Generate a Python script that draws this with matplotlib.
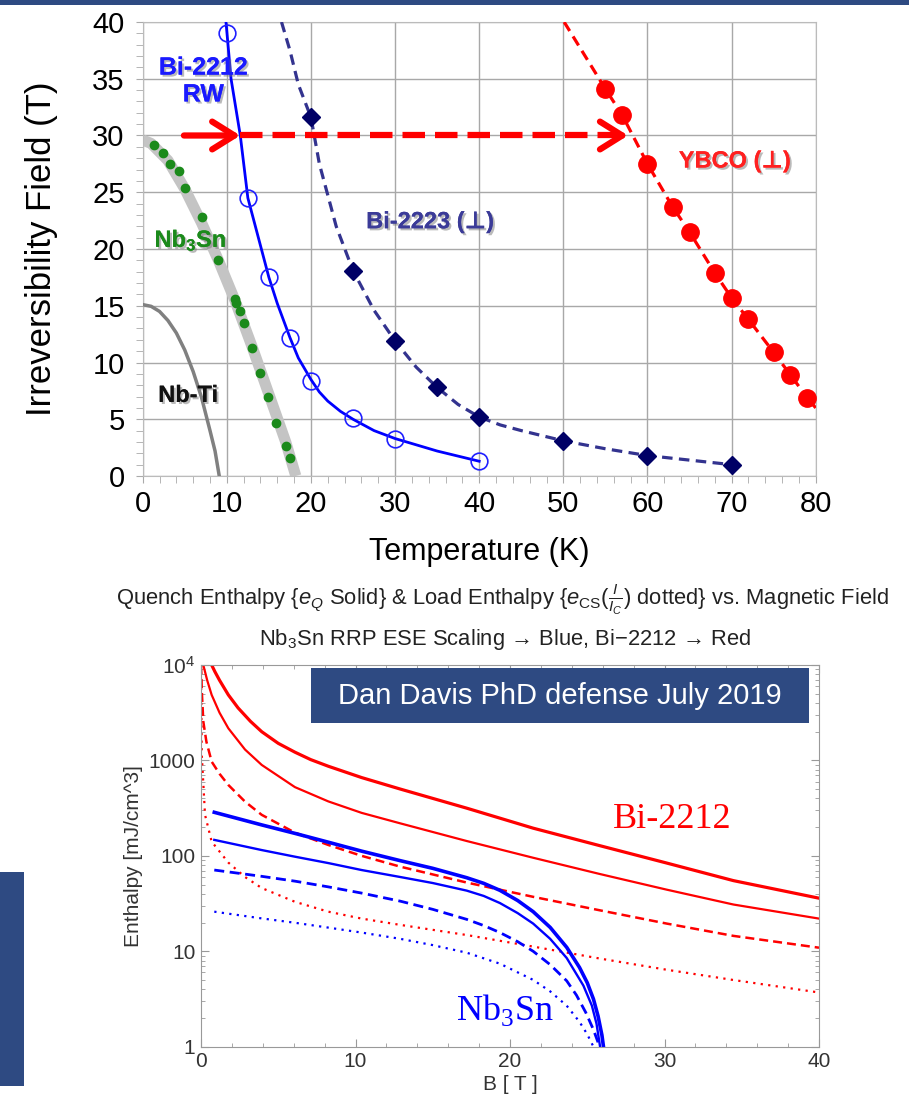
import numpy as np
import matplotlib.pyplot as plt
import matplotlib.patheffects as pe
from matplotlib.patches import Rectangle
from matplotlib.ticker import MultipleLocator, LogLocator, NullFormatter

plt.rcParams['font.family'] = ['Liberation Sans', 'DejaVu Sans']
plt.rcParams['mathtext.fontset'] = 'custom'
plt.rcParams['mathtext.rm'] = 'Liberation Sans'
plt.rcParams['mathtext.it'] = 'Liberation Sans:italic'
plt.rcParams['mathtext.bf'] = 'Liberation Sans:bold'

NAVY = '#2E4A82'

# ------------------------------------------------
# Top panel: irreversibility field vs temperature
# ------------------------------------------------
bi2212_T = [10, 12.5, 15, 17.5, 20, 25, 30, 40]
bi2212_B = [39.0, 24.5, 17.5, 12.2, 8.4, 5.1, 3.3, 1.3]
bi2212_fit_T = [9.9, 10.5, 11.6, 12.5, 14, 15, 16, 17.5, 18.5, 20, 21, 22, 23.5, 25, 27.5, 30, 35, 40]
bi2212_fit_B = [40, 35, 30, 24.5, 20.3, 17.5, 15.2, 12.2, 10.4, 8.5, 7.4, 6.6, 5.7, 5.0, 4.0, 3.3, 2.2, 1.3]

bi2223_T = [20, 25, 30, 35, 40, 50, 60, 70]
bi2223_B = [31.6, 18.1, 11.9, 7.8, 5.2, 3.1, 1.8, 1.0]
bi2223_fit_T = [16.5, 17.5, 18.5, 20, 21, 23, 25, 27.5, 30, 32.5, 35, 37.5, 40, 42.5, 45, 50, 55, 60, 65, 70]
bi2223_fit_B = [40, 37.5, 34.5, 31.6, 27.5, 22, 18.1, 14.6, 11.9, 9.6, 7.8, 6.3, 5.2, 4.5, 4.0, 3.1, 2.4, 1.8, 1.4, 1.0]

ybco_T = [55, 57, 60, 63, 65, 68, 70, 72, 75, 77, 79]
ybco_B = [34.1, 31.8, 27.5, 23.7, 21.5, 17.9, 15.7, 13.8, 10.9, 8.9, 6.9]
ybco_fit_T = [50.1, 55, 57, 60, 63, 65, 68, 70, 72, 75, 77, 79, 80]
ybco_fit_B = [40, 34.1, 31.8, 27.5, 23.7, 21.5, 17.9, 15.7, 13.8, 10.9, 8.9, 6.9, 6.0]

nb3sn_T = [1.4, 2.45, 3.3, 4.3, 5.0, 7.05, 9.0, 11.0, 11.1, 11.6, 12.05, 13.0, 13.95, 14.9, 15.9, 17.0, 17.5]
nb3sn_B = [29.2, 28.5, 27.5, 26.9, 25.4, 22.8, 19.0, 15.6, 15.2, 14.5, 13.5, 11.3, 9.1, 7.0, 4.7, 2.6, 1.6]
nb3sn_band_T = [0, 1, 3, 5, 7, 9, 11, 13, 15, 17, 18.2]
nb3sn_band_B = [29.6, 29.3, 27.8, 25.3, 22.3, 19.0, 15.4, 11.4, 7.2, 3.0, 0]

nbti_T = [0, 1, 2, 3, 4, 5, 6, 7, 8, 8.6, 9.1]
nbti_B = [15.1, 14.95, 14.5, 13.7, 12.6, 11.1, 9.2, 6.9, 4.0, 2.2, 0]

arrow_T = [4.9, 11.6, 57.7]
arrow_B = 30

# ------------------------------------------------
# Bottom panel: enthalpy vs field (log scale)
# ------------------------------------------------
red_thick_B = [0.69, 0.9, 1.2, 1.77, 2.4, 3.2, 3.93, 5.0, 6.08, 7.1, 8.24, 10.4, 12.9, 17.2, 21.5, 25.8, 30.15, 34.46, 40]
red_thick_y = [10000, 8510, 6920, 4860, 3550, 2570, 2000, 1510, 1220, 1020, 869, 661, 501, 316, 195, 128, 84, 55, 36]
red_thin_B = [0.15, 0.4, 0.69, 1.2, 1.77, 2.85, 3.93, 6.08, 8.24, 10.4, 12.9, 17.2, 21.5, 25.8, 30.15, 34.46, 40]
red_thin_y = [10000, 6920, 4860, 3160, 2170, 1300, 897, 525, 372, 282, 219, 143, 95.5, 64.6, 44.2, 30.9, 22]
red_dash_B = [0.0, 0.06, 0.15, 0.35, 0.69, 1.2, 1.77, 2.85, 3.93, 6.08, 8.24, 10.4, 12.9, 17.2, 21.5, 25.8, 30.15, 34.46, 40]
red_dash_y = [10000, 5000, 2550, 1570, 971, 724, 553, 370, 269, 175, 130, 100, 77, 52.5, 37.2, 26.9, 19.5, 14.5, 10.9]
red_dot_B = [0.0, 0.05, 0.26, 0.69, 1.77, 2.85, 3.93, 6.08, 8.24, 10.4, 12.9, 17.2, 21.5, 25.8, 30.15, 34.46, 40]
red_dot_y = [10000, 1140, 269, 141, 85, 60, 46, 33, 26, 22, 18.9, 14.8, 11.2, 8.4, 6.4, 5.0, 3.7]

blue_thick_B = [0.86, 3.93, 6.08, 8.24, 10.4, 12.9, 15.0, 17.2, 18.3, 19.35, 20.5, 21.5, 22.6, 23.67,
                24.5, 25.0, 25.4, 25.7, 25.95, 26.05]
blue_thick_y = [286, 211, 172, 139, 112, 89, 74, 59, 51.5, 43.5, 34, 26, 17.8, 11, 6.76, 4.68, 3.16,
                2.09, 1.32, 1.0]
blue_thin_B = [0.86, 3.93, 6.08, 8.24, 10.4, 12.9, 15.0, 17.2, 18.3, 19.35, 20.5, 21.5, 22.6, 23.67,
               24.75, 25.3, 25.6, 25.83]
blue_thin_y = [147, 115, 98, 84, 71, 60, 51.9, 43.2, 38, 32, 25.1, 19.5, 13.5, 8.5, 4.37, 2.69, 1.74, 1.0]
blue_dash_B = [0.86, 3.93, 6.08, 8.24, 10.4, 12.9, 15.0, 17.2, 18.3, 19.35, 20.5, 21.5, 22.6, 23.67,
               24.3, 24.9, 25.4, 25.8]
blue_dash_y = [71, 61, 54.3, 47.3, 40.7, 33.5, 27.5, 21.6, 18.6, 15.7, 12.6, 10, 7.24, 4.9, 3.47,
               2.29, 1.51, 1.0]
blue_dot_B = [0.86, 3.93, 6.08, 8.24, 10.4, 12.9, 15.0, 17.2, 19.35, 21.5, 22.6, 23.67, 24.5, 25.0, 25.4]
blue_dot_y = [26, 22.1, 19.9, 17.7, 15.7, 13.5, 11.6, 9.66, 7.41, 5.01, 3.8, 2.69, 1.82, 1.35, 1.0]

y_ticks = [1, 10, 100, 1000, 10000]
y_ticklabels = ['1', '10', '100', '1000', r'$\mathregular{10^4}$']

# -------------
# Figure
# -------------
fig = plt.figure(figsize=(9.09, 11.03), dpi=100)
fig.add_artist(Rectangle((0, 1 - 5 / 1103), 1, 5 / 1103, transform=fig.transFigure,
                         color=NAVY, lw=0))
fig.add_artist(Rectangle((0, 1 - 1086 / 1103), 24 / 909, 214 / 1103, transform=fig.transFigure,
                         color=NAVY, lw=0))

shadow = [pe.withSimplePatchShadow(offset=(1.5, -1.5), shadow_rgbFace='#777777', alpha=0.5),
          pe.Normal()]

# ---- top axes ----
ax1 = fig.add_axes([142.7 / 909, 1 - 476 / 1103, 673 / 909, 454 / 1103])
ax1.set_xlim(0, 80)
ax1.set_ylim(0, 40)
ax1.xaxis.set_major_locator(MultipleLocator(10))
ax1.xaxis.set_minor_locator(MultipleLocator(2))
ax1.yaxis.set_major_locator(MultipleLocator(5))
ax1.yaxis.set_minor_locator(MultipleLocator(1))
ax1.grid(True, which='major', color='#A8A8A8', lw=1)
ax1.set_axisbelow(True)
ax1.tick_params(which='both', direction='out', length=5, color='#AAAAAA', labelsize=21)
ax1.tick_params(axis='x', pad=5)
ax1.tick_params(axis='y', pad=8)
for s in ax1.spines.values():
    s.set_color('#BBBBBB')

ax1.plot(nb3sn_band_T, nb3sn_band_B, color='#C4C4C4', lw=8, solid_capstyle='butt', zorder=2)
ax1.plot(nb3sn_T, nb3sn_B, 'o', color='#1B8A1B', ms=6, zorder=3)
ax1.plot(nbti_T, nbti_B, color='#808080', lw=2.5, zorder=3)

ax1.plot(bi2212_fit_T, bi2212_fit_B, color='#0000FF', lw=2, zorder=3)
ax1.plot(bi2212_T, bi2212_B, 'o', mfc='none', mec='#2020FF', mew=1.2, ms=12, zorder=4, clip_on=False)

ax1.plot(bi2223_fit_T, bi2223_fit_B, color='#33338F', lw=2.3, dashes=(3.3, 2), zorder=3)
ax1.plot(bi2223_T, bi2223_B, 'D', color='#000066', ms=9, zorder=4, clip_on=False)

ax1.plot(ybco_fit_T, ybco_fit_B, color='#FF0000', lw=2.3, dashes=(3.3, 2), zorder=3)
ax1.plot(ybco_T, ybco_B, 'o', color='#FF0000', ms=12.5, zorder=4, clip_on=False)

head = '->,head_length=0.8,head_width=0.5'
ax1.annotate('', xy=(arrow_T[1], arrow_B), xytext=(arrow_T[0], arrow_B),
             arrowprops=dict(arrowstyle=head, color='red', lw=4.5, mutation_scale=20,
                             shrinkA=0, shrinkB=0), zorder=5)
ax1.plot(arrow_T[1:], [arrow_B, arrow_B], color='red', lw=4.5, dashes=(3.6, 1.6), zorder=5)
ax1.annotate('', xy=(arrow_T[2], arrow_B), xytext=(arrow_T[2] - 1.5, arrow_B),
             arrowprops=dict(arrowstyle=head, color='red', lw=4.5, mutation_scale=20,
                             shrinkA=0, shrinkB=0), zorder=5)

ax1.text(7.2, 34.8, 'Bi-2212\nRW', color='#1A1AFF', fontsize=18, fontweight='bold',
         ha='center', va='center', linespacing=1.15, path_effects=shadow)
ax1.text(5.7, 20.8, r'Nb$_\mathregular{3}$Sn', color='#1B8A1B', fontsize=17, fontweight='bold',
         ha='center', va='center', path_effects=shadow)
ax1.text(5.4, 7.1, 'Nb-Ti', color='#111111', fontsize=17, fontweight='bold',
         ha='center', va='center', path_effects=shadow)
ax1.text(34.2, 22.4, 'Bi-2223 (⊥)', color='#3B3B98', fontsize=17, fontweight='bold',
         ha='center', va='center', path_effects=shadow)
ax1.text(70.4, 27.75, 'YBCO (⊥)', color='#FF2020', fontsize=17, fontweight='bold',
         ha='center', va='center', path_effects=shadow)

ax1.set_xlabel('Temperature (K)', fontsize=22)
ax1.xaxis.set_label_coords(0.5, -0.135)
ax1.set_ylabel('Irreversibility Field (T)', fontsize=25)
ax1.yaxis.set_label_coords(-0.126, 0.5)

# ---- titles of the bottom panel ----
fig.text(503 / 909, 1 - 600 / 1103,
         r'Quench Enthalpy {$e_Q$ Solid} & Load Enthalpy {$e_{\mathregular{CS}}(\frac{I}{I_C})$ dotted} vs. Magnetic Field',
         ha='center', va='center', fontsize=15.8, color='#222222')
fig.text(505 / 909, 1 - 639 / 1103,
         r'Nb$_\mathregular{3}$Sn RRP ESE Scaling → Blue, Bi−2212 → Red',
         ha='center', va='center', fontsize=15.8, color='#222222')

# ---- bottom axes ----
ax2 = fig.add_axes([201 / 909, 1 - 1046.7 / 1103, 618 / 909, 381.7 / 1103])
ax2.set_yscale('log')
ax2.set_xlim(0, 40)
ax2.set_ylim(1, 1e4)
ax2.set_xticks([0, 10, 20, 30, 40])
ax2.xaxis.set_minor_locator(MultipleLocator(2))
ax2.set_yticks(y_ticks)
ax2.set_yticklabels(y_ticklabels)
ax2.yaxis.set_minor_locator(LogLocator(base=10, subs=np.arange(2, 10)))
ax2.yaxis.set_minor_formatter(NullFormatter())
ax2.tick_params(which='both', direction='in', top=True, right=True, color='#999999',
                labelsize=15, labelcolor='#333333', pad=4)
ax2.tick_params(which='major', length=6)
ax2.tick_params(which='minor', length=3)
for s in ax2.spines.values():
    s.set_color('#999999')

ax2.plot(red_thick_B, red_thick_y, color='#FF0000', lw=2.3)
ax2.plot(red_thin_B, red_thin_y, color='#FF0000', lw=1.6)
ax2.plot(red_dash_B, red_dash_y, color='#FF0000', lw=1.8, dashes=(3.6, 2))
ax2.plot(red_dot_B, red_dot_y, color='#FF0000', lw=1.6, dashes=(1, 2.4))
ax2.plot(blue_thick_B, blue_thick_y, color='#0000FF', lw=2.6)
ax2.plot(blue_thin_B, blue_thin_y, color='#0000FF', lw=1.7)
ax2.plot(blue_dash_B, blue_dash_y, color='#0000FF', lw=2.0, dashes=(3.6, 2))
ax2.plot(blue_dot_B, blue_dot_y, color='#0000FF', lw=1.6, dashes=(1, 2.4))

ax2.add_patch(Rectangle((0.178, 0.848), 0.806, 0.144, transform=ax2.transAxes,
                        color=NAVY, lw=0, zorder=5))
ax2.text(0.581, 0.92, 'Dan Davis PhD defense July 2019', transform=ax2.transAxes,
         color='white', fontsize=21, ha='center', va='center', zorder=6)

ax2.text(30.5, 238, 'Bi-2212', color='#FF0000', fontsize=26, family='Liberation Serif',
         ha='center', va='center')
ax2.text(19.7, 2.4, r'Nb$_\mathregular{3}$Sn', color='#0000FF', fontsize=26,
         family='Liberation Serif', ha='center', va='center')

ax2.set_xlabel('B [ T ]', fontsize=15, color='#333333')
ax2.xaxis.set_label_coords(0.5, -0.075)
ax2.set_ylabel('Enthalpy [mJ/cm^3]', fontsize=15, color='#333333')
ax2.yaxis.set_label_coords(-0.094, 0.5)

fig.savefig('out.png', dpi=100)
